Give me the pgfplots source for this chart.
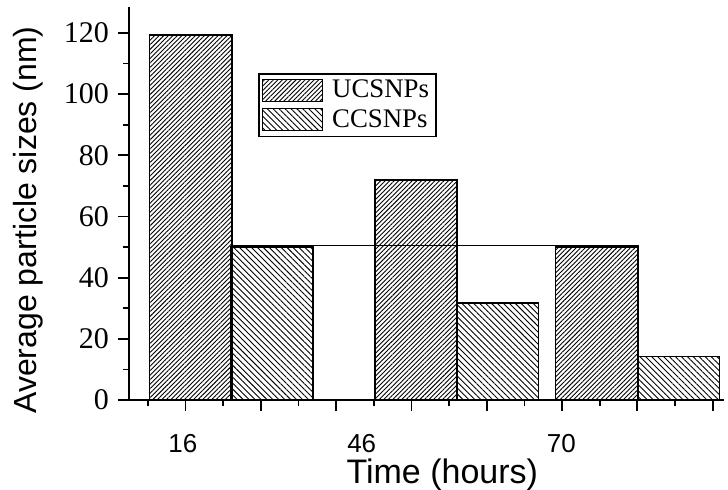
\documentclass[border=0pt]{standalone}
\usepackage{fontspec}
\setmainfont{Liberation Serif}
\newfontfamily\arialf{Liberation Sans}
\usepackage{pgfplots}
\pgfplotsset{compat=1.18}
\usetikzlibrary{patterns.meta}

\begin{document}
\begin{tikzpicture}
  \begin{axis}[
    scale only axis,
    width=297.5pt, height=196.5pt,
    xmin=-0.5, xmax=15.3,
    ymin=0, ymax=128.5,
    axis lines*=left,
    axis line style={line width=1pt},
    tick style={line width=0.9pt, black},
    tick align=outside,
    major tick length=5.5pt,
    minor tick length=3pt,
    xtick={1,3,...,15},
    minor xtick={0,2,...,14},
    xticklabels={},
    ytick={0,20,...,120},
    minor ytick={10,30,...,110},
    /pgf/number format/assume math mode=true,
    yticklabel style={font=\fontsize{15}{17}\selectfont, xshift=-1pt},
    ybar, bar shift=0pt, bar width=2.18,
    legend style={at={(rel axis cs:0.217,0.832)}, anchor=north west,
                  draw=black, line width=0.75pt,
                  font=\fontsize{13.4}{15}\selectfont,
                  row sep=0.5pt, inner xsep=1.5pt, inner ysep=1pt},
    legend cell align=left,
    legend image code/.code={%
      \draw[#1, line width=0.6pt] (0pt,-5.5pt) rectangle (30pt,5.5pt);
      \path (32.5pt,0pt);},
    clip=false,
  ]
    % UCSNPs
    \addplot[draw=black, line width=0.75pt,
             pattern={Lines[angle=45,distance=1.6pt,line width=0.45pt]}, pattern color=black]
      coordinates {(1.14,119.4)(7.12,72)(11.92,50)};
    \addlegendentry{UCSNPs}
    % CCSNPs
    \addplot[draw=black, line width=0.75pt,
             pattern={Lines[angle=-45,distance=2.1pt,line width=0.45pt]}, pattern color=black]
      coordinates {(3.30,50)(9.28,31.8)(14.09,14.2)};
    \addlegendentry{CCSNPs}
    % reference line
    \addplot[sharp plot, black, line width=0.5pt, forget plot]
      coordinates {(2.23,50.4)(13.05,50.4)};

    % x tick labels and axis titles
    \node[font=\arialf\fontsize{13}{15}\selectfont] at ([yshift=-22pt]axis cs:0.93,0) {16};
    \node[font=\arialf\fontsize{13}{15}\selectfont] at ([yshift=-22pt]axis cs:5.68,0) {46};
    \node[font=\arialf\fontsize{13}{15}\selectfont] at ([yshift=-22pt]axis cs:10.98,0) {70};
    \node[font=\arialf\fontsize{17}{19}\selectfont, inner sep=0pt] at ([yshift=-37.5pt]axis cs:7.82,0) {Time (hours)};
    \node[font=\arialf\fontsize{16}{18}\selectfont, rotate=90]
      at ([xshift=-50.5pt]rel axis cs:0,0.458) {Average particle sizes (nm)};
  \end{axis}
  \pgfresetboundingbox
  \path (-64.5pt,-44.5pt) rectangle (299.5pt,200pt);
\end{tikzpicture}
\end{document}
